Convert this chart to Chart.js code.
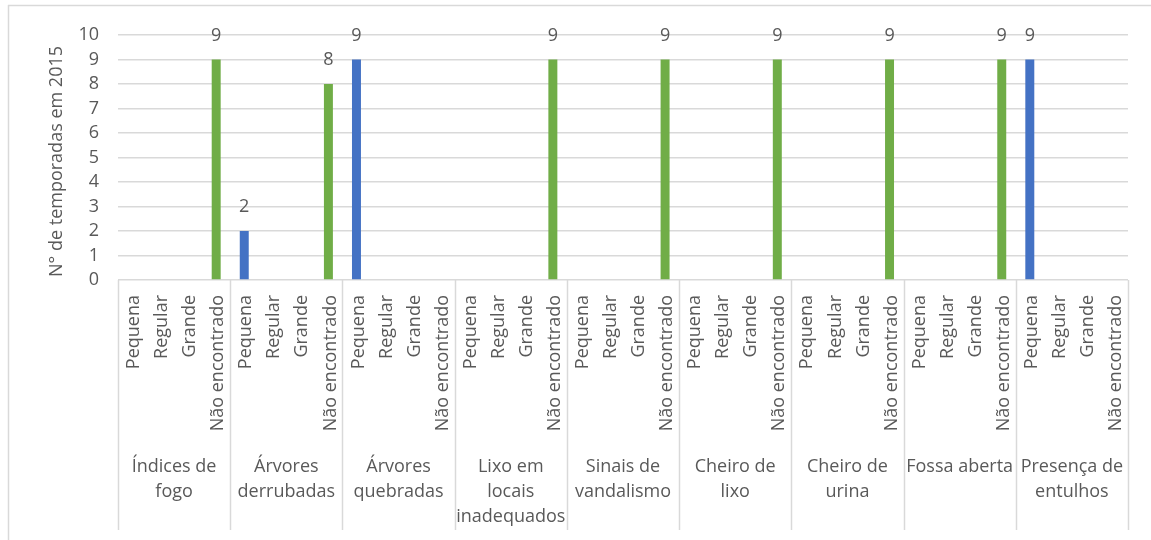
<!DOCTYPE html>
<html>
<head>
<meta charset="utf-8">
<script src="https://cdn.jsdelivr.net/npm/chart.js@4.4.1/dist/chart.umd.min.js"></script>
<style>
  html, body { margin: 0; padding: 0; background: #ffffff; }
  #wrap { width: 1151px; height: 540px; position: relative; }
</style>
</head>
<body>
<div id="wrap"><canvas id="c"></canvas></div>
<script>
// Problem groups (wrapped as they appear under the axis)
const groups = [
  ["Índices de", "fogo"],
  ["Árvores", "derrubadas"],
  ["Árvores", "quebradas"],
  ["Lixo em", "locais", "inadequados"],
  ["Sinais de", "vandalismo"],
  ["Cheiro de", "lixo"],
  ["Cheiro de", "urina"],
  ["Fossa aberta"],
  ["Presença de", "entulhos"]
];
// Intensity levels inside each group
const levels = ["Pequena", "Regular", "Grande", "Não encontrado"];
// Number of seasons per group, in the order of `levels`
const indicesDeFogo      = [0, 0, 0, 9];
const arvoresDerrubadas  = [2, 0, 0, 8];
const arvoresQuebradas   = [9, 0, 0, 0];
const lixoLocais         = [0, 0, 0, 9];
const sinaisVandalismo   = [0, 0, 0, 9];
const cheiroLixo         = [0, 0, 0, 9];
const cheiroUrina        = [0, 0, 0, 9];
const fossaAberta        = [0, 0, 0, 9];
const presencaEntulhos   = [9, 0, 0, 0];
const yTicks = [0, 1, 2, 3, 4, 5, 6, 7, 8, 9, 10];
const yTitle = "N° de temporadas em 2015";

const groupValues = [indicesDeFogo, arvoresDerrubadas, arvoresQuebradas, lixoLocais,
  sinaisVandalismo, cheiroLixo, cheiroUrina, fossaAberta, presencaEntulhos];

const levelColors = ["#4472C4", "#ED7D31", "#A5A5A5", "#70AD47"];
const FONT = "'Open Sans', sans-serif";
const FSIZE = 18;
const TXT = "#595959";
const LINE = "#D9D9D9";

const labels = [];
const values = [];
const colors = [];
groupValues.forEach(vals => {
  vals.forEach((v, i) => {
    labels.push(levels[i]);
    values.push(v);
    colors.push(levelColors[i]);
  });
});

const multiLevelAxis = {
  id: "multiLevelAxis",
  afterDraw(chart) {
    const ctx = chart.ctx;
    const x = chart.scales.x;
    const area = chart.chartArea;
    const n = labels.length;
    const half = (x.getPixelForValue(1) - x.getPixelForValue(0)) / 2;
    ctx.save();

    // frame lines of the chart box
    ctx.strokeStyle = LINE;
    ctx.lineWidth = 1.5;
    ctx.beginPath();
    ctx.moveTo(8, 5.5); ctx.lineTo(1151, 5.5);
    ctx.moveTo(8.5, 5); ctx.lineTo(8.5, 540);
    ctx.stroke();

    // group separators under the axis
    ctx.beginPath();
    for (let g = 0; g <= groups.length; g++) {
      const idx = g * levels.length;
      let px = idx < n ? x.getPixelForValue(idx) - half : x.getPixelForValue(n - 1) + half;
      px = Math.round(px) + 0.5;
      ctx.moveTo(px, area.bottom);
      ctx.lineTo(px, 530);
    }
    ctx.stroke();

    // level labels, rotated
    ctx.fillStyle = TXT;
    ctx.font = FSIZE + "px " + FONT;
    ctx.textAlign = "right";
    ctx.textBaseline = "middle";
    for (let i = 0; i < n; i++) {
      ctx.save();
      ctx.translate(x.getPixelForValue(i) + 2, area.bottom + 15);
      ctx.rotate(-Math.PI / 2);
      ctx.fillText(labels[i], 0, 0);
      ctx.restore();
    }

    // group labels
    ctx.textAlign = "center";
    groups.forEach((lines, g) => {
      const a = x.getPixelForValue(g * levels.length) - half;
      const b = x.getPixelForValue(g * levels.length + levels.length - 1) + half;
      const cx = (a + b) / 2;
      lines.forEach((t, k) => ctx.fillText(t, cx, 467 + k * 25));
    });

    // axis title
    ctx.save();
    ctx.translate(57, (area.top + area.bottom) / 2 + 4);
    ctx.rotate(-Math.PI / 2);
    ctx.textAlign = "center";
    ctx.fillText(yTitle, 0, 0);
    ctx.restore();

    ctx.restore();
  },
  afterDatasetsDraw(chart) {
    const ctx = chart.ctx;
    const meta = chart.getDatasetMeta(0);
    ctx.save();
    ctx.fillStyle = TXT;
    ctx.font = FSIZE + "px " + FONT;
    ctx.textAlign = "center";
    ctx.textBaseline = "middle";
    meta.data.forEach((bar, i) => {
      if (values[i] > 0) ctx.fillText(String(values[i]), bar.x, bar.y - 24);
    });
    ctx.restore();
  }
};

new Chart(document.getElementById("c"), {
  type: "bar",
  data: {
    labels: labels,
    datasets: [{
      data: values,
      backgroundColor: colors,
      borderWidth: 0,
      barPercentage: 0.32,
      categoryPercentage: 1.0
    }]
  },
  options: {
    responsive: true,
    maintainAspectRatio: false,
    animation: false,
    events: [],
    layout: { padding: { top: 35, right: 23, bottom: 10, left: 0 } },
    plugins: { legend: { display: false }, tooltip: { enabled: false } },
    scales: {
      x: {
        offset: true,
        grid: { display: false },
        border: { display: false },
        ticks: { display: false },
        afterFit(s) { s.height = 250; }
      },
      y: {
        min: 0,
        max: 10,
        afterBuildTicks(s) { s.ticks = yTicks.map(v => ({ value: v })); },
        ticks: { color: TXT, font: { family: FONT, size: FSIZE }, padding: 19, autoSkip: false },
        grid: { color: LINE, lineWidth: 1.5, drawTicks: false },
        border: { display: false },
        afterFit(s) { s.width = 118; }
      }
    }
  },
  plugins: [multiLevelAxis]
});
</script>
</body>
</html>
